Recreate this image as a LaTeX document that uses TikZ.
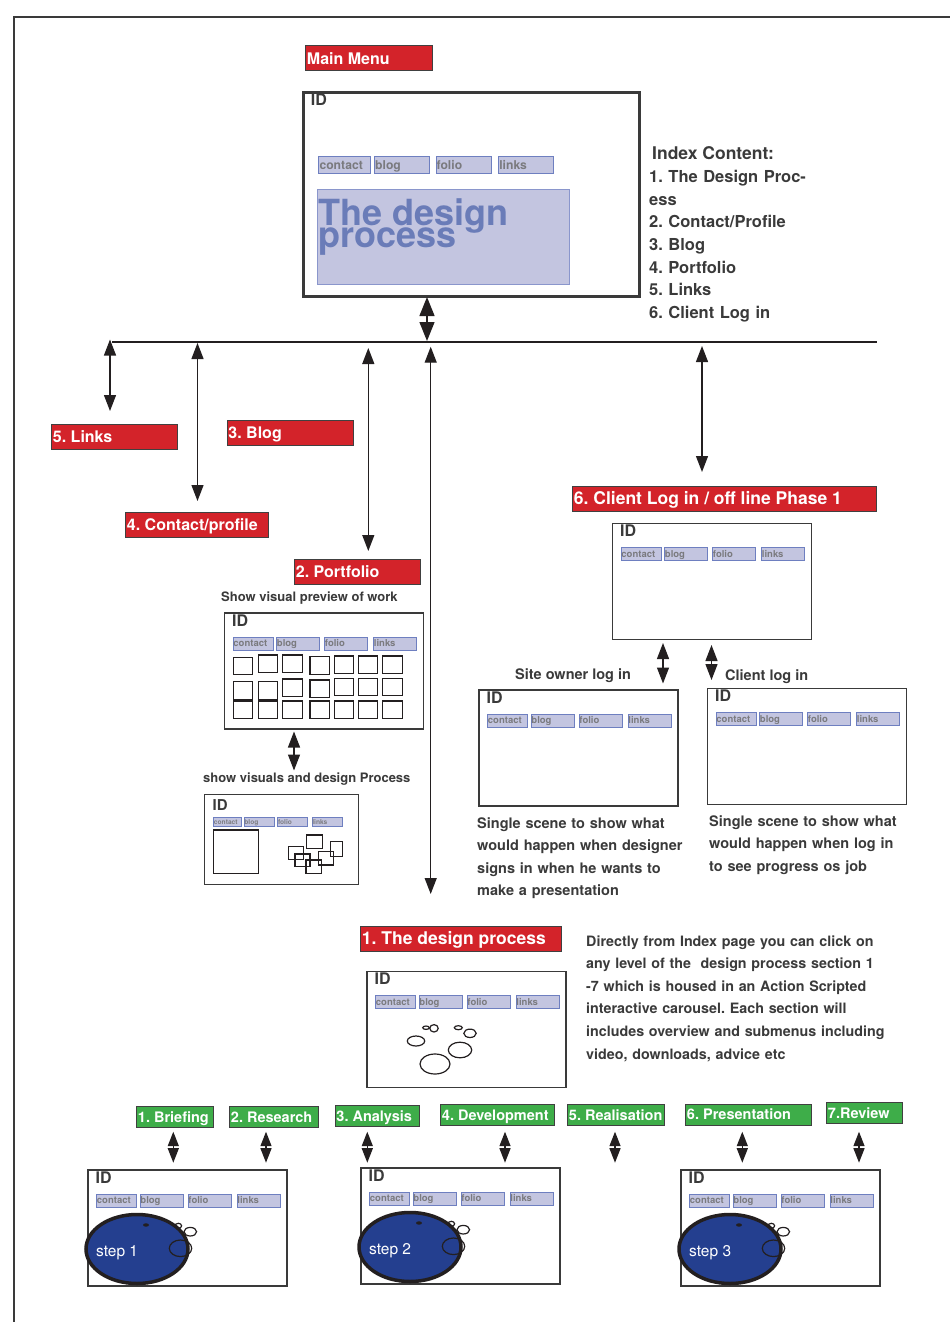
\documentclass[tikz,border=0pt]{standalone}
\usepackage{fontspec}
\setmainfont{TeX Gyre Heros}
\usetikzlibrary{arrows.meta,positioning}

\definecolor{tagred}{RGB}{211,35,42}
\definecolor{taggreen}{RGB}{62,173,73}
\definecolor{tabfill}{RGB}{195,197,224}
\definecolor{tabline}{RGB}{110,127,192}
\definecolor{tabtext}{RGB}{122,122,126}
\definecolor{bigtext}{RGB}{106,124,184}
\definecolor{bigline}{RGB}{138,150,204}
\definecolor{stepblue}{RGB}{36,63,143}
\definecolor{ink}{RGB}{58,58,58}
\definecolor{arrowink}{RGB}{35,31,32}

\tikzset{
	boxtag/.style={draw=black!75, line width=0.9pt, text=white, anchor=north west, inner xsep=1.5pt, inner ysep=0pt, /utils/exec={\pgfmathsetmacro\tagwd{#1-3}}, execute at begin node={\hbox to \tagwd pt\bgroup}, execute at end node={\hss\egroup}},
	redtag/.style={boxtag=#1, fill=tagred, minimum height=25pt, text height=11.5pt, text depth=0pt, font=\fontsize{16}{16}\selectfont\bfseries},
	greentag/.style={boxtag=#1, fill=taggreen, minimum height=21pt, text height=10.5pt, text depth=0pt, font=\fontsize{14.5}{15}\selectfont\bfseries},
	navtab/.style={draw=tabline, line width=0.9pt, fill=tabfill, text=tabtext, anchor=north west, inner xsep=0.5pt, inner ysep=0pt, minimum height=13pt, text height=7pt, text depth=0pt, /utils/exec={\pgfmathsetmacro\tabwd{#1-1}}, execute at begin node={\hbox to \tabwd pt\bgroup}, execute at end node={\hss\egroup}, font=\fontsize{9.5}{10}\selectfont\bfseries},
	scrbox/.style={draw=ink, line width=1.6pt, anchor=north west, inner sep=0pt, minimum width=199pt, minimum height=116pt},
	idtag/.style={anchor=north west, inner sep=0pt, text=ink, font=\fontsize{16}{16}\selectfont\bfseries},
	notetext/.style={anchor=base west, inner sep=0pt, text=ink, align=left, font=\fontsize{14.5}{22.5}\selectfont\bfseries},
	dblarrow/.style={draw=arrowink, line width=1.3pt, {Triangle[width=12pt,length=16pt]}-{Triangle[width=12pt,length=16pt]}},
	bigarrow/.style={dblarrow, {Triangle[width=15pt,length=19pt]}-{Triangle[width=15pt,length=19pt]}},
	smallarrow/.style={dblarrow, {Triangle[width=11pt,length=14.5pt]}-{Triangle[width=11pt,length=14.5pt]}},
	busline/.style={draw=arrowink, line width=1.2pt},
	frameline/.style={draw=ink, line width=1.2pt},
	thumb/.style={draw=arrowink, line width=1.3pt},
	bubble/.style={draw=arrowink, line width=1.2pt},
	stepball/.style={draw=arrowink, fill=stepblue, line width=3.5pt},
	steplabel/.style={anchor=base west, inner sep=0pt, text=white, font=\fontsize{15.5}{16}\selectfont}
}

\newcommand{\navtabs}[4]{%
	\begin{scope}[shift={(#2,-(#3))}, scale=#4, transform shape]
		\node[navtab=40] (#1-contact) at (0,0) {contact};
		\node[navtab=43] (#1-blog) at (43.5,0) {blog};
		\node[navtab=43] (#1-folio) at (91.5,0) {folio};
		\node[navtab=43] (#1-links) at (140.5,0) {links};
	\end{scope}}

\newcommand{\screen}[3]{%
	\node[scrbox] (#1) at (#2,-#3) {};
	\node[idtag, below right=2.5pt and 8.5pt of #1.north west] (#1-id) {ID};
	\navtabs{#1}{#2+9}{#3+24.5}{1}}

\newcommand{\stepscreen}[4]{%
	\screen{#1}{#2}{#3}
	\coordinate (#1-ball) at ([xshift=50pt,yshift=-80pt]#1.north west);
	\draw[stepball] (#1-ball) ellipse [x radius=51pt, y radius=34.5pt];
	\fill[arrowink] ([shift={(9pt,24pt)}]#1-ball) ellipse [x radius=3pt, y radius=1.7pt];
	\draw[bubble] ([shift={(41.3pt,23.2pt)}]#1-ball) ellipse [x radius=3.3pt, y radius=2.5pt];
	\draw[bubble] ([shift={(53.3pt,17.3pt)}]#1-ball) ellipse [x radius=6.3pt, y radius=4.3pt];
	\draw[bubble] ([shift={(43.5pt,0.7pt)}]#1-ball) ellipse [x radius=11.2pt, y radius=8.3pt];
	\node[steplabel] (#1-step) at ([shift={(-41pt,-7pt)}]#1-ball) {step #4};}

\begin{document}
\frenchspacing
\begin{tikzpicture}[x=1pt, y=1pt]
	\useasboundingbox (0,0) rectangle (950,-1322);

	\coordinate (frame-bl) at (14,-1322);
	\coordinate (frame-tl) at (14,-17);
	\coordinate (frame-tr) at (950,-17);
	\draw[frameline] (frame-bl) -- (frame-tl) -- (frame-tr);

	% main menu
	\node[redtag=126.5] (mainmenu) at (305,-45.5) {Main Menu};
	\node[scrbox, line width=3pt, minimum width=335.6pt, minimum height=204.4pt] (mainscr) at (302.2,-90.8) {};
	\node[idtag, below right=2.5pt and 8.5pt of mainscr.north west] (mainscr-id) {ID};
	\navtabs{mainscr}{318.3}{156.3}{1.28}
	\node[anchor=north west, inner sep=0pt, draw=bigline, line width=1.2pt, fill=tabfill, minimum width=252pt, minimum height=95.5pt] (bigpanel) at (317,-188.5) {};
	\node[anchor=base west, inner sep=0pt, text=bigtext, font=\fontsize{36}{36}\selectfont\bfseries] (bigtitle-a) at (318,-225.5) {The design};
	\node[anchor=base west, inner sep=0pt, text=bigtext, font=\fontsize{36}{36}\selectfont\bfseries] (bigtitle-b) at (318,-247.5) {process};

	\node[notetext, font=\fontsize{17.5}{22.6}\selectfont\bfseries] (idx-head) at (652,-159.3) {Index Content:};
	\node[notetext, text width=220pt, font=\fontsize{16.5}{22.6}\selectfont\bfseries] (idx-list) at (649,-182.7)
		{1. The Design Proc-\\ess\\2. Contact/Profile\\3. Blog\\4. Portfolio\\5. Links\\6. Client Log in};

	% bus and links
	\coordinate (bus-w) at (112,-342);
	\coordinate (bus-e) at (877,-342);
	\draw[busline] (bus-w) -- (bus-e);
	\coordinate (main-top) at (427,-297);
	\coordinate (main-bot) at (427,-341);
	\draw[bigarrow] (main-top) -- (main-bot);

	\foreach \n/\x/\ya/\yb in {links/110/339.5/411, contact/197.5/343/501, folio/368.3/348/551, design/430.7/346.7/894, client/702/346/472, visual/294/731.5/770.5, owner/663/643/683.5, clientin/711.5/645/680} {
		\coordinate (\n-top) at (\x,-\ya);
		\coordinate (\n-bot) at (\x,-\yb);
		\draw[dblarrow] (\n-top) -- (\n-bot);
	}

	\node[redtag=126] (t-links) at (51,-424) {5. Links};
	\node[redtag=126] (t-blog) at (226.5,-420) {3. Blog};
	\node[redtag=143] (t-contact) at (125,-511.5) {4. Contact/profile};
	\node[redtag=125.5] (t-folio) at (294,-559) {2. Portfolio};
	\node[redtag=304, font=\fontsize{17.5}{18}\selectfont\bfseries] (t-client) at (572,-486) {6. Client Log in / off line Phase 1};
	\node[redtag=201, font=\fontsize{17.5}{18}\selectfont\bfseries] (t-design) at (360,-926) {1. The design process};

	% portfolio
	\node[notetext, font=\fontsize{13}{16}\selectfont\bfseries] (n-preview) at (221,-601.5) {Show visual preview of work};
	\screen{sc-folio}{223.5}{612}
	\foreach \cx/\ra/\rb in {233.3/657.3/681.7, 258.3/655/681.7, 282.7/655/679, 310/656.7/680, 334.3/656/678.3, 358.3/656/678.3, 382.7/656/678.3} {
		\draw[thumb] (\cx,-\ra) rectangle ++(19.5,-17.5);
		\draw[thumb] (\cx,-\rb) rectangle ++(19.5,-17.5);
		\draw[thumb] (\cx,-701) rectangle ++(19.5,-17.5);
	}
	\node[notetext, font=\fontsize{13}{16}\selectfont\bfseries] (n-visual) at (203,-782.5) {show visuals and design Process};
	\node[scrbox, line width=1.4pt, minimum width=154pt, minimum height=90pt] (sc-visual) at (204,-794) {};
	\node[idtag, font=\fontsize{15}{15}\selectfont\bfseries, below right=5pt and 8.5pt of sc-visual.north west] (sc-visual-id) {ID};
	\navtabs{sc-visual}{213.3}{816.7}{0.7}
	\draw[bubble] (213.3,-830) rectangle (258.3,-873.3);
	\foreach \ax/\ay/\bx/\by in {306.7/835/322.7/848.3, 288.3/846.7/303.3/859.3, 295/854/310/866.7, 318.3/851.7/333.3/865, 330.7/841.7/342.7/856.7, 306/860/321.7/873.3}
		\draw[bubble] (\ax,-\ay) rectangle (\bx,-\by);

	% client log in
	\screen{sc-client}{611.5}{522.5}
	\node[notetext] (n-owner) at (515,-679) {Site owner log in};
	\node[notetext] (n-clientin) at (725,-680.7) {Client log in};
	\screen{sc-owner}{478}{689}
	\screen{sc-clientin}{706.5}{687.5}
	\node[notetext, text width=230pt] (n-ownerdesc) at (477,-828.3)
		{Single scene to show what\\would happen when designer\\signs in when he wants to\\make a presentation};
	\node[notetext, text width=230pt] (n-clientdesc) at (709,-826)
		{Single scene to show what\\would happen when log in\\to see progress os job};

	% design process
	\screen{sc-design}{366}{970.5}
	\foreach \cx/\cy/\rx/\ry in {426/1027.7/3.3/1.7, 434/1028.3/4.2/3.7, 416/1041/8.7/5, 458.3/1027.7/4/2, 470/1033.3/6.2/4.2, 460/1050/11.7/7.8, 435/1064/15/10}
		\draw[bubble] (\cx,-\cy) ellipse [x radius=\rx pt, y radius=\ry pt];
	\node[notetext, text width=330pt, font=\fontsize{14.3}{22.6}\selectfont\bfseries] (n-designdesc) at (586,-946)
		{Directly from Index page you can click on\\any level of the\ \ design process section 1\\-7 which is housed in an Action Scripted\\interactive carousel. Each section will\\includes overview and submenus including\\video, downloads, advice etc};

	\node[greentag=77] (g-brief) at (136,-1106) {1. Briefing};
	\node[greentag=89] (g-research) at (229,-1106) {2. Research};
	\node[greentag=84] (g-analysis) at (334.5,-1105) {3. Analysis};
	\node[greentag=114] (g-devel) at (440,-1104) {4. Development};
	\node[greentag=97] (g-real) at (567,-1104) {5. Realisation};
	\node[greentag=126] (g-present) at (685,-1103.5) {6. Presentation};
	\node[greentag=76] (g-review) at (826,-1102) {7.Review};

	\foreach \x [count=\i] in {173.3, 266, 367.3, 505, 615, 742.3, 859} {
		\coordinate (s\i-top) at (\x,-1131.7);
		\coordinate (s\i-bot) at (\x,-1162.7);
		\draw[smallarrow] (s\i-top) -- (s\i-bot);
	}

	\stepscreen{sc-step1}{87}{1169}{1}
	\stepscreen{sc-step2}{360}{1167}{2}
	\stepscreen{sc-step3}{680}{1169}{3}
\end{tikzpicture}
\end{document}
